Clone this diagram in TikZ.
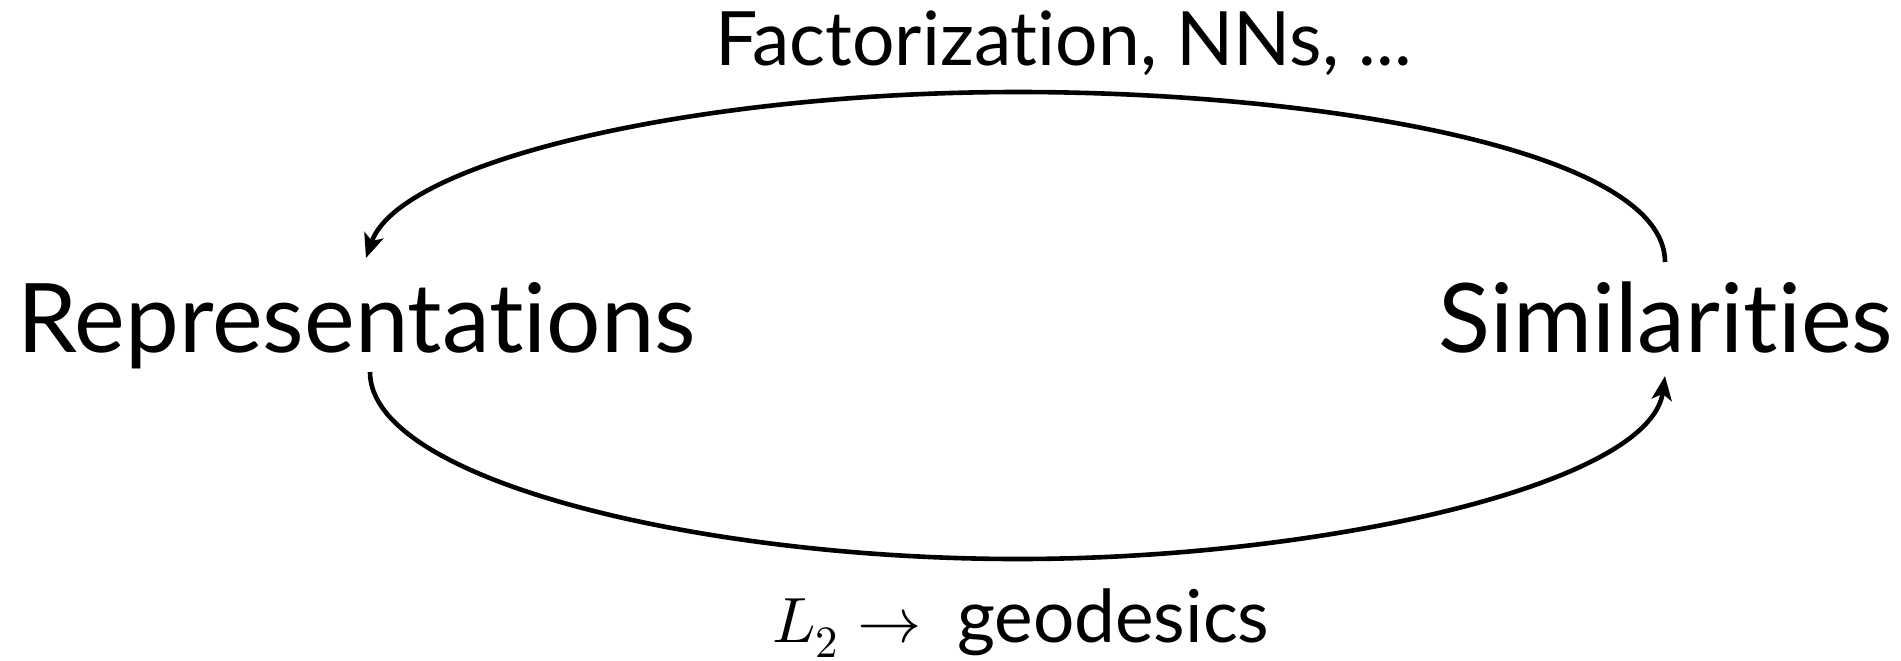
\documentclass[tikz,border=0pt]{standalone}
\usepackage{fontspec}
\usepackage{unicode-math}
\setmainfont{Lato}[Ligatures={NoCommon}]
\setmathfont{Latin Modern Math}
\usetikzlibrary{arrows.meta}
\begin{document}
\begin{tikzpicture}[x=0.5pt,y=-0.5pt,
  big/.style={inner sep=0pt,font=\fontsize{48}{54}\selectfont},
  lbl/.style={inner sep=0pt,font=\fontsize{37.5}{42}\selectfont},
  lblb/.style={inner sep=0pt,font=\fontsize{36.5}{42}\selectfont},
  arc/.style={line width=2.3pt,-{Stealth[length=12pt,width=10pt,inset=3pt]}}]
\useasboundingbox (0,0) rectangle (1901,660);
\node[big,anchor=base west] (rep) at (17,352) {Representations};
\node[big,anchor=base west] (sim) at (1438,352) {Similarities};
\node[lbl,anchor=base west] (top) at (715,65) {Factorization, NNs, ...};
\node[lblb,anchor=base west] (bot) at (772,642) {{\fontsize{32}{36}\selectfont$L_2\rightarrow$}\hspace{18pt}geodesics};
\coordinate (s1) at (1665,262);
\coordinate (e1) at (366,258);
\coordinate (s2) at (370,372);
\coordinate (e2) at (1665,376);
\draw[arc] (s1) .. controls (1665,150) and (1320,92) .. (1018,92)
  .. controls (700,92) and (400,160) .. (e1);
\draw[arc] (s2) .. controls (370,480) and (700,559) .. (1018,559)
  .. controls (1320,559) and (1650,485) .. (e2);
\end{tikzpicture}
\end{document}
